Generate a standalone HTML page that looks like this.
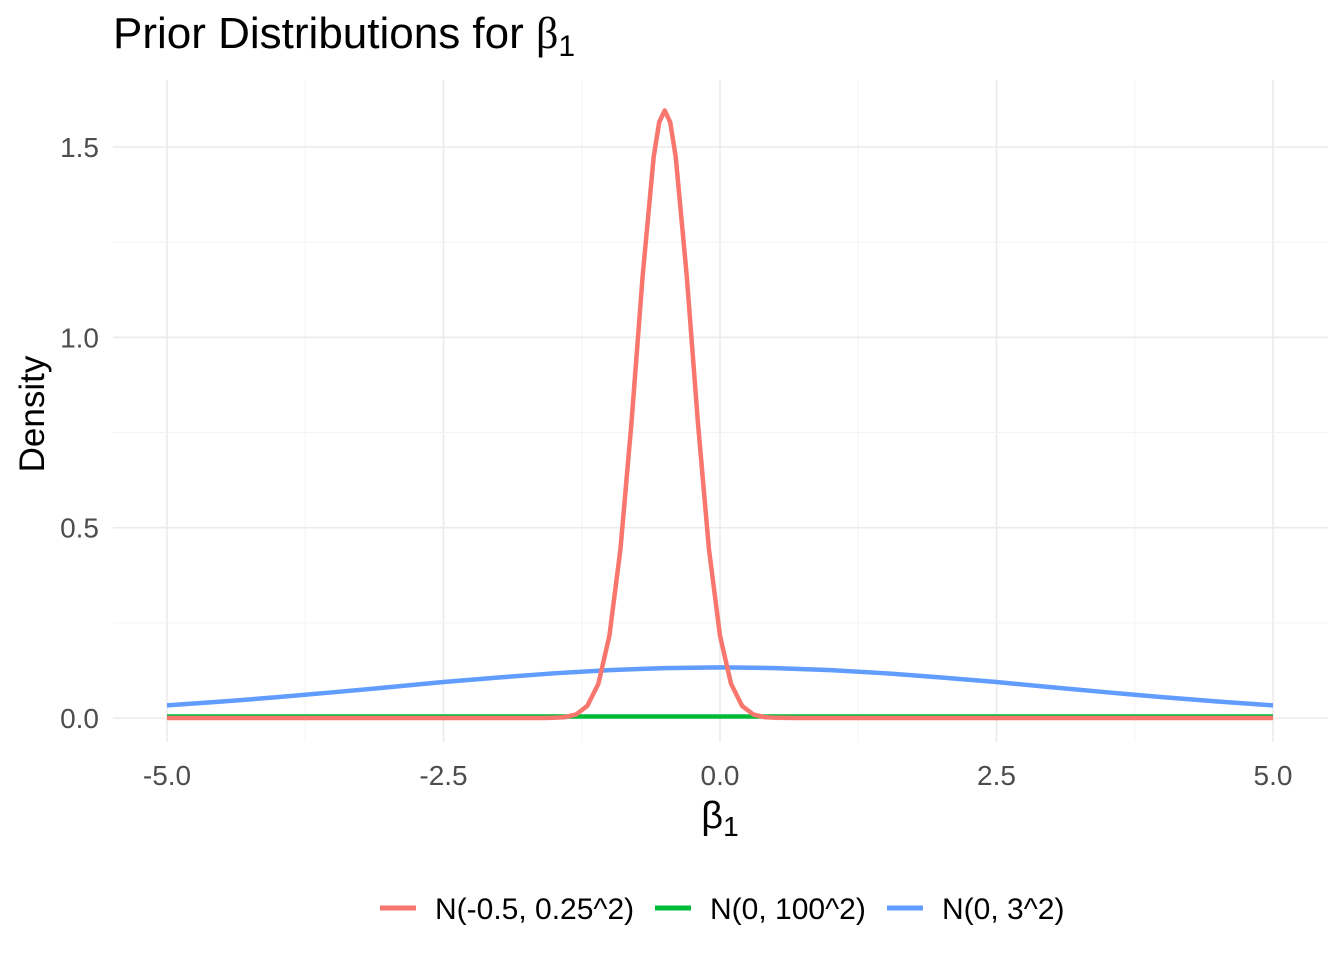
<!DOCTYPE html>
<html><head><meta charset="utf-8"><style>
body{margin:0;background:#fff;}
svg text{font-family:"Liberation Sans",sans-serif;}
</style></head><body>
<svg width="1344" height="960" viewBox="0 0 1344 960">
<g id="grid"></g>
<g id="series"></g>
<g id="ticks"></g>
<text x="113" y="48" font-size="44" fill="#000">Prior Distributions for <tspan font-family="Liberation Serif,serif">β</tspan><tspan font-size="30" dy="8">1</tspan></text>
<text x="720" y="828" font-size="38" text-anchor="middle" font-family="Liberation Serif,serif">β<tspan font-size="28" dy="8" font-family="Liberation Sans,sans-serif">1</tspan></text>
<text transform="translate(44,414) rotate(-90)" font-size="35" text-anchor="middle">Density</text>
<g>
<g><line x1="380" y1="908" x2="416" y2="908" stroke="#F8766D" stroke-width="5"/><text x="435" y="919" font-size="30">N(-0.5, 0.25^2)</text></g>
<g><line x1="655" y1="908" x2="691" y2="908" stroke="#00BA38" stroke-width="5"/><text x="710" y="919" font-size="30">N(0, 100^2)</text></g>
<g><line x1="887" y1="908" x2="923" y2="908" stroke="#619CFF" stroke-width="5"/><text x="942" y="919" font-size="30">N(0, 3^2)</text></g>
</g>
</svg>
<script>
const xTicks=[-5,-2.5,0,2.5,5];
const xTickLabels=["-5.0","-2.5","0.0","2.5","5.0"];
const yTicks=[0,0.5,1,1.5];
const yTickLabels=["0.0","0.5","1.0","1.5"];
const redX=[-5,-1.7,-1.6,-1.5,-1.4,-1.3,-1.2,-1.1,-1.0,-0.9,-0.8,-0.7,-0.6,-0.55,-0.5,-0.45,-0.4,-0.3,-0.2,-0.1,0,0.1,0.2,0.3,0.4,0.5,0.7,5];
const redY=[0,0,0.0001,0.0005,0.0024,0.0095,0.0317,0.0896,0.216,0.444,0.777,1.159,1.473,1.565,1.596,1.565,1.473,1.159,0.777,0.444,0.216,0.0896,0.0317,0.0095,0.0024,0.0005,0,0];
const greenX=[-5,5];
const greenY=[0.004,0.004];
const blueX=[-5,-4.5,-4,-3.5,-3,-2.5,-2,-1.5,-1,-0.5,0,0.5,1,1.5,2,2.5,3,3.5,4,4.5,5];
const blueY=[0.0332,0.0433,0.0547,0.0675,0.0807,0.0945,0.1065,0.1174,0.1258,0.1311,0.133,0.1311,0.1258,0.1174,0.1065,0.0945,0.0807,0.0675,0.0547,0.0433,0.0332];
const NS="http://www.w3.org/2000/svg";
const sx=v=>167+(v+5)*110.6;
const sy=v=>718-v*380.67;
function mk(tag,attrs,parent){const e=document.createElementNS(NS,tag);for(const k in attrs)e.setAttribute(k,attrs[k]);document.getElementById(parent).appendChild(e);return e;}
for(let i=0;i<xTicks.length;i++){
  const g=mk('line',{x1:sx(xTicks[i]),x2:sx(xTicks[i]),y1:80,y2:742,stroke:'#ebebeb','stroke-width':1.6},'grid');
  
  
  if(i<xTicks.length-1){const m=mk('line',{x1:sx((xTicks[i]+xTicks[i+1])/2),x2:sx((xTicks[i]+xTicks[i+1])/2),y1:80,y2:742,stroke:'#f3f3f3','stroke-width':1},'grid');
  
  }
  const t=mk('text',{x:sx(xTicks[i]),y:785,'font-size':28,fill:'#4d4d4d','text-anchor':'middle'},'ticks');t.textContent=xTickLabels[i];
  
  
}
for(let i=0;i<yTicks.length;i++){
  const g=mk('line',{x1:113,x2:1328,y1:sy(yTicks[i]),y2:sy(yTicks[i]),stroke:'#ebebeb','stroke-width':1.6},'grid');
  
  
  if(i<yTicks.length-1){const m=mk('line',{x1:113,x2:1328,y1:sy((yTicks[i]+yTicks[i+1])/2),y2:sy((yTicks[i]+yTicks[i+1])/2),stroke:'#f3f3f3','stroke-width':1},'grid');
  
  }
  const t=mk('text',{x:99,y:sy(yTicks[i])+10,'font-size':28,fill:'#4d4d4d','text-anchor':'end'},'ticks');t.textContent=yTickLabels[i];
  
  
}
function line(xs,ys,color,name){
  const p=mk('polyline',{points:xs.map((x,i)=>sx(x)+','+sy(ys[i])).join(' '),fill:'none',stroke:color,'stroke-width':4.5,'stroke-linejoin':'round'},'series');
  
  
}
line(blueX,blueY,'#619CFF','line-n-0-3');
line(greenX,greenY,'#00BA38','line-n-0-100');
line(redX,redY,'#F8766D','line-n-neg05-025');
</script>
</body></html>
